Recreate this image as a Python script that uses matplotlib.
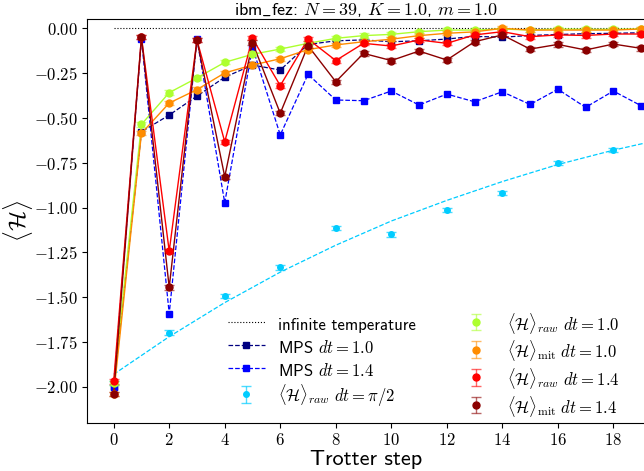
import matplotlib
matplotlib.use("Agg")
import matplotlib.pyplot as plt
from matplotlib.colors import to_rgba
from matplotlib.ticker import FuncFormatter

plt.rcParams['mathtext.fontset'] = 'cm'
plt.rcParams['font.family'] = ['cmss10', 'DejaVu Sans']
plt.rcParams['axes.unicode_minus'] = False

steps = list(range(20))
steps_cyan = [0, 2, 4, 6, 8, 10, 12, 14, 16, 18]

# MPS reference curves
mps_10 = [-2.00, -0.577, -0.484, -0.378, -0.273, -0.205, -0.233, -0.090, -0.070, -0.065,
          -0.075, -0.070, -0.060, -0.045, -0.050, -0.040, -0.035, -0.030, -0.028, -0.025]
mps_14 = [-2.00, -0.060, -1.592, -0.060, -0.973, -0.106, -0.595, -0.257, -0.400, -0.404,
          -0.350, -0.428, -0.367, -0.410, -0.354, -0.425, -0.340, -0.441, -0.350, -0.432]

# hardware results
raw_10 = [-1.98, -0.536, -0.359, -0.277, -0.190, -0.145, -0.116, -0.084, -0.056, -0.041,
          -0.034, -0.019, -0.010, -0.010, -0.004, -0.010, -0.004, -0.006, -0.006, -0.004]
mit_10 = [-2.04, -0.586, -0.417, -0.342, -0.249, -0.205, -0.170, -0.119, -0.093, -0.075,
          -0.061, -0.041, -0.028, -0.020, 0.000, -0.010, -0.010, -0.010, -0.010, -0.004]
raw_14 = [-1.97, -0.050, -1.243, -0.065, -0.633, -0.056, -0.320, -0.060, -0.180, -0.084,
          -0.099, -0.065, -0.084, -0.037, -0.019, -0.047, -0.037, -0.040, -0.032, -0.032]
mit_14 = [-2.04, -0.050, -1.445, -0.065, -0.828, -0.080, -0.474, -0.097, -0.298, -0.140,
          -0.180, -0.127, -0.177, -0.075, -0.037, -0.116, -0.090, -0.121, -0.088, -0.112]
raw_pi2 = [-1.98, -1.697, -1.492, -1.334, -1.114, -1.150, -1.014, -0.917, -0.752, -0.679]

# fitted trend for dt = pi/2
fit_x = [0, 2, 4, 6, 8, 10, 12, 14, 16, 18, 20]
fit_y = [-1.93, -1.72, -1.53, -1.36, -1.21, -1.075, -0.96, -0.855, -0.76, -0.68, -0.61]

err = 0.012

fig = plt.figure(figsize=(6.44, 4.71), dpi=100)
ax = fig.add_axes([0.1356, 0.1025, 0.8668, 0.8565])

ax.plot([0, 20], [0, 0], ls=':', color='black', lw=0.8, label='infinite temperature')
ax.plot(steps, mps_10, '--s', color='navy', ms=4.5, lw=0.9, label=r'MPS $dt = 1.0$')
ax.plot(steps, mps_14, '--s', color='blue', ms=4.5, lw=0.9, label=r'MPS $dt = 1.4$')

cyan = '#00ccff'
ax.plot(fit_x, fit_y, '--', color=cyan, lw=0.9)
ax.errorbar(steps_cyan, raw_pi2, yerr=err, fmt='o', color=cyan, ms=4,
            ecolor=to_rgba(cyan, 0.7), capsize=3.5, elinewidth=1,
            label=r'$\langle\mathcal{H}\rangle_{raw}\ dt = \pi/2$')

series = [
    (raw_10, '#adff2f', r'$\langle\mathcal{H}\rangle_{raw}\ dt = 1.0$'),
    (mit_10, 'darkorange', r'$\langle\mathcal{H}\rangle_{\mathrm{mit}}\ dt = 1.0$'),
    (raw_14, 'red', r'$\langle\mathcal{H}\rangle_{raw}\ dt = 1.4$'),
    (mit_14, '#8b0000', r'$\langle\mathcal{H}\rangle_{\mathrm{mit}}\ dt = 1.4$'),
]
for vals, c, lab in series:
    ax.plot(steps, vals, '-', color=c, lw=1)
    ax.errorbar(steps, vals, yerr=err, fmt='o', color=c, ms=5,
                ecolor=to_rgba(c, 0.6), capsize=3.5, elinewidth=1, label=lab)

ax.set_xlim(-0.95, 19.16)
ax.set_ylim(-2.2, 0.05)
ax.set_xticks(range(0, 19, 2))
ax.set_yticks([-2.0, -1.75, -1.5, -1.25, -1.0, -0.75, -0.5, -0.25, 0.0])
ax.xaxis.set_major_formatter(FuncFormatter(lambda v, p: f"${v:.0f}$"))
ax.yaxis.set_major_formatter(FuncFormatter(lambda v, p: f"${v:.2f}$"))
ax.tick_params(labelsize=12)

ax.set_xlabel('Trotter step', fontsize=16, labelpad=1)
ax.set_ylabel(r'$\langle\mathcal{H}\rangle$', fontsize=17, labelpad=-1)
ax.set_title(r'$\mathsf{ibm\_fez}$: $N = 39$, $K = 1.0$, $m = 1.0$', fontsize=13, pad=2)

ax.legend(ncol=2, frameon=False, fontsize=12, loc='lower right',
          bbox_to_anchor=(0.986, 0.079), bbox_transform=fig.transFigure,
          columnspacing=2.5, labelspacing=0.16, handleheight=1.5, handlelength=2.2)

fig.savefig('out.png', dpi=100)
